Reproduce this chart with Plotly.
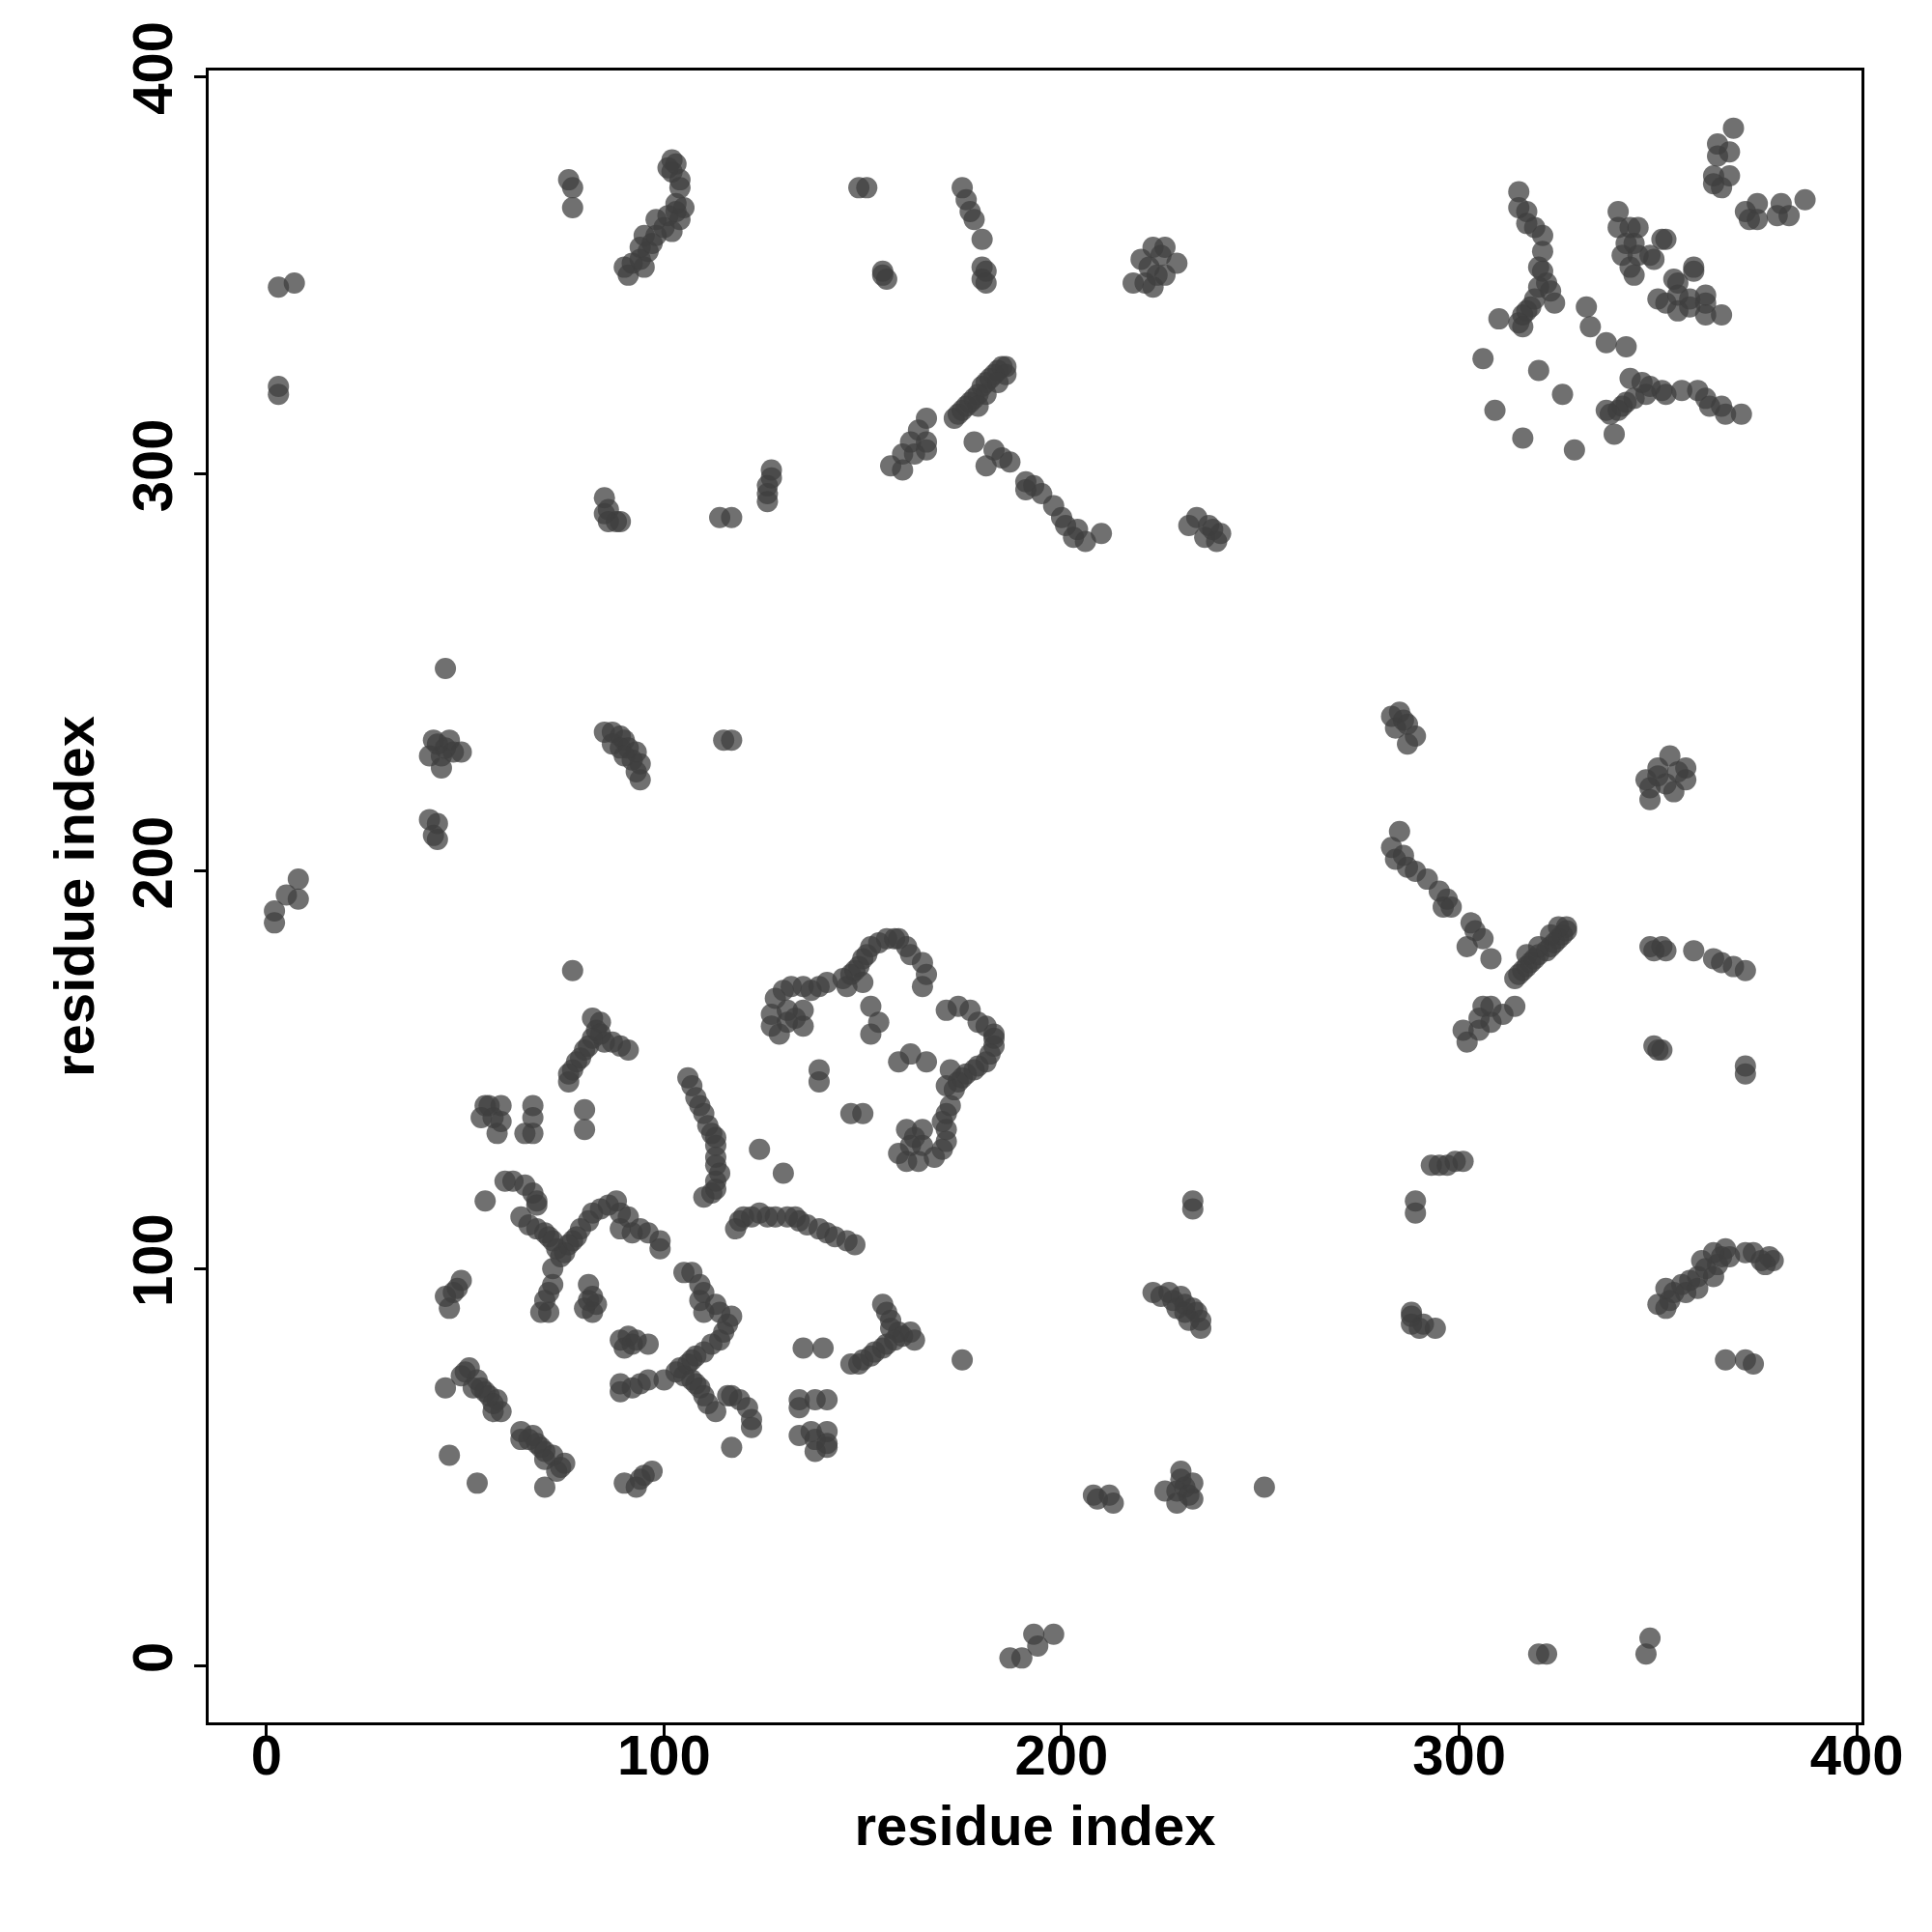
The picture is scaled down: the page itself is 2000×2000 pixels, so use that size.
import plotly.graph_objects as go

# Contact pairs (i < j); the map is symmetric, so each pair is drawn at (i, j) and (j, i)
contact_i = [
    3, 7, 3, 3,
    76, 77, 77,
    85, 86, 86, 88, 89, 85,
    91, 90, 92, 94, 95, 94, 96, 97, 95, 98, 98, 100, 101, 102, 103, 103, 105, 104, 102, 104, 104, 102, 103, 101,
    149, 151,
    155, 156, 155,
    175, 176, 177, 178, 180, 180, 181, 180, 181,
    173, 174, 175, 176, 177, 178, 179, 180, 181, 182, 183, 184, 185, 186, 186, 184, 181, 179,
    178, 181, 183, 185, 187, 191, 191, 193, 195, 198, 200, 201, 203, 204, 206, 210,
    166, 166, 166, 164, 163, 162, 160, 160, 157,
    127, 127, 126, 126, 126,
    114, 117,
    223, 226, 229, 218, 221, 226, 220, 224, 222, 223, 225,
    234, 237, 240, 236, 232, 238, 239,
    369, 365, 368, 365, 364, 368, 366, 364,
    315, 315, 317, 317, 319, 321, 321, 320, 321, 322, 323, 324, 320, 318, 316, 315, 310, 317, 319, 316,
    332, 333,
    340, 340, 343, 345, 344, 341, 345, 348, 349, 344, 343, 342,
    351, 352,
    306, 320, 309,
    45, 42, 46, 41, 44, 47, 49, 44, 45, 43, 41, 43, 42, 43, 8, 8, 5, 2, 2, 77,
    76, 76, 77, 78, 79, 80, 81, 82, 83, 84, 82, 85, 87, 89, 91, 84,
    56, 59, 57, 59, 58, 54, 55, 67, 67, 65, 67, 80, 80,
    85, 87, 89, 90, 87, 89, 91, 93, 92, 94, 93, 94, 90, 115, 117,
    128, 130, 132, 135, 137, 139, 141, 145, 127, 127, 131, 135, 131, 135, 129, 133,
    146, 147, 148, 149, 150, 151, 152, 154, 156, 158, 159, 161, 162, 165, 166, 165, 150,
    152, 154, 152, 139, 139, 124,
    106, 107, 108, 109, 110, 111, 112, 113, 113, 113, 113, 114, 113, 113, 112, 110,
    55, 60, 62, 65, 67, 68, 68,
    64, 66, 68, 70, 71, 72, 73, 74, 75, 76, 77, 78, 79, 81, 82, 84, 86, 88, 89, 89, 92, 96, 99, 99, 94, 91,
    72, 72, 71, 70, 69, 71, 81, 82, 83, 80, 82, 81, 49, 48, 45, 46, 47,
    45, 49, 50, 51, 53, 54, 56, 58, 59, 57, 52, 55, 57, 46,
]
contact_j = [
    347, 348, 322, 320,
    374, 372, 367,
    294, 291, 288, 288, 288, 290,
    350, 352, 353, 354, 352, 357, 356, 358, 360, 360, 364, 362, 365, 361, 366, 368, 367, 364, 376, 374, 372, 379, 378, 377,
    372, 372,
    351, 349, 350,
    372, 369, 366, 364, 359, 352, 351, 349, 348,
    314, 315, 316, 317, 318, 319, 320, 322, 323, 324, 325, 326, 327, 327, 325, 323, 320, 317,
    308, 302, 306, 304, 303, 298, 296, 297, 295, 292, 289, 287, 284, 286, 283, 285,
    314, 308, 306, 311, 305, 308, 305, 301, 302,
    301, 299, 297, 295, 293,
    289, 289,
    357, 357, 353, 348, 348, 350, 354, 350, 352, 347, 355,
    289, 287, 285, 284, 287, 286, 283,
    387, 383, 381, 380, 375, 375, 372, 373,
    371, 367, 366, 363, 362, 360, 356, 352, 351, 348, 346, 343, 347, 342, 340, 338, 339, 341, 344, 337,
    342, 337,
    366, 362, 362, 362, 358, 355, 355, 355, 354, 350, 352, 358,
    359, 359,
    329, 326, 316,
    251, 233, 233, 229, 229, 230, 230, 226, 231, 232, 213, 212, 209, 208, 198, 193, 194, 190, 187, 175,
    147, 149, 150, 152, 153, 155, 156, 158, 160, 162, 163, 157, 157, 156, 155, 159,
    141, 141, 138, 137, 134, 138, 141, 141, 138, 134, 134, 140, 135,
    235, 235, 234, 233, 232, 231, 231, 230, 228, 227, 225, 223, 229, 233, 233,
    168, 170, 171, 171, 170, 171, 172, 173, 164, 161, 165, 165, 162, 161, 159, 163,
    171, 174, 175, 176, 178, 179, 181, 182, 183, 183, 183, 181, 179, 177, 174, 171, 172,
    166, 162, 159, 150, 147, 130,
    148, 146, 143, 141, 139, 136, 134, 133, 131, 128, 126, 124, 122, 120, 119, 118,
    117, 122, 122, 121, 119, 117, 116,
    113, 111, 110, 109, 108, 107, 105, 103, 104, 106, 107, 108, 110, 112, 114, 115, 116, 117, 114, 110, 109, 109, 107, 105, 110, 113,
    100, 96, 94, 92, 89, 89, 96, 93, 91, 90, 89, 92, 97, 95, 93, 90, 94,
    70, 73, 74, 75, 72, 70, 68, 67, 64, 64, 70, 69, 66, 53,
]
tick_values = [0, 100, 200, 300, 400]
axis_label = "residue index"

n = min(len(contact_i), len(contact_j))
xs = contact_i[:n] + contact_j[:n]
ys = contact_j[:n] + contact_i[:n]

fig = go.Figure(go.Scatter(
    x=xs, y=ys, mode="markers",
    marker=dict(size=22, color="rgba(62,62,62,0.74)", line=dict(width=0)),
    hoverinfo="x+y",
))

font_family = "Liberation Sans, Arial, sans-serif"
axis_common = dict(
    tickvals=tick_values,
    ticks="outside", ticklen=12, tickwidth=2.5, tickcolor="black",
    showline=True, linewidth=2.5, linecolor="black", mirror=True,
    showgrid=False, zeroline=False,
    tickfont=dict(family=font_family, size=58, color="black", weight="bold"),
)
fig.update_xaxes(range=[-14.55, 401.2], ticklabelstandoff=-30,
                 title=dict(text=axis_label, standoff=22,
                            font=dict(family=font_family, size=58, color="black", weight="bold")),
                 **axis_common)
fig.update_yaxes(range=[-14.2, 401.5], tickangle=-90,
                 title=dict(text=axis_label, standoff=9,
                            font=dict(family=font_family, size=58, color="black", weight="bold")),
                 **axis_common)
fig.update_layout(
    width=2000, height=2000,
    margin=dict(l=208, r=81, t=65, b=225, autoexpand=False),
    plot_bgcolor="white", paper_bgcolor="white",
    showlegend=False,
    font=dict(family=font_family, color="black"),
)
fig.write_html("out.html")
